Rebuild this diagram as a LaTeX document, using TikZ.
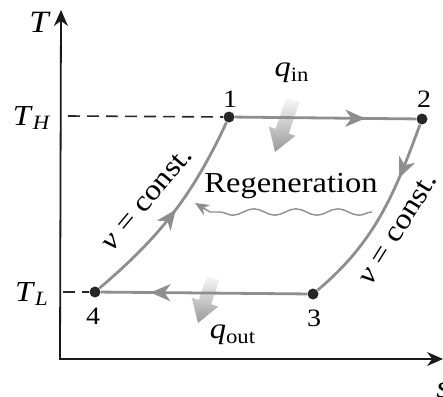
\documentclass[tikz,border=0pt]{standalone}
\usepackage{fontspec}
\setmainfont[FakeStretch=1.12]{Liberation Serif}
\usetikzlibrary{arrows.meta,decorations.markings,decorations.pathmorphing}
\definecolor{cyc}{HTML}{8E8E8E}
\begin{document}
\begin{tikzpicture}[x=0.5pt,y=-0.5pt,
  lbl/.style={font=\fontsize{14.5}{16}\selectfont, inner sep=0pt},
  num/.style={font=\fontsize{12.5}{14}\selectfont, inner sep=0pt},
  dot/.style={circle, fill=black!85, inner sep=0pt, minimum size=5.5pt},
  proc/.style={color=cyc, line width=1.4pt},
  midarrow/.style={postaction={decorate}, decoration={markings, mark=at position #1 with {\arrow{Stealth[length=10pt,width=8.5pt,inset=3pt]}}}},
  axisline/.style={line width=0.9pt, black!90, {Stealth[length=8pt,width=7pt]}-{Stealth[length=8pt,width=7pt]}},
  dashline/.style={line width=0.8pt, black!85, dash pattern=on 6pt off 3.5pt},
  heatarrow/.style={top color=gray!5, bottom color=gray!80, draw=none},
]
\useasboundingbox (0,0) rectangle (443,396);

% axes
\coordinate (Ttop) at (61,10);
\coordinate (O) at (60,359);
\coordinate (Send) at (443,359);
\draw[axisline] (Ttop) -- (O) -- (Send);
\node[lbl, font=\fontsize{15.5}{17}\selectfont\itshape] (Tlab) at (39,22) {T};
\node[lbl, font=\fontsize{15.5}{17}\selectfont\itshape] (slab) at (443,390) {s};

% state points
\node[dot] (p1) at (229,117) {};
\node[dot] (p2) at (422,119) {};
\node[dot] (p3) at (313,294) {};
\node[dot] (p4) at (95,292) {};
\node[num] (n1) at (230,99) {1};
\node[num] (n2) at (424,99) {2};
\node[num] (n3) at (314,318) {3};
\node[num] (n4) at (93,316) {4};

% temperature levels
\coordinate (TH) at (68,116);
\coordinate (TL) at (63,292);
\draw[dashline] (TH) -- (p1);
\draw[dashline] (TL) -- (p4);
\node[lbl] (THlab) at (32,118) {\textit{T}\textsubscript{\textit{H}}};
\node[lbl] (TLlab) at (32,294) {\textit{T}\textsubscript{\textit{L}}};

% heat arrows
\shade[heatarrow] (286.4,97.7) -- (299.6,102.3) -- (288.8,133.5) -- (295.4,135.8) -- (275,152) -- (269.0,126.6) -- (275.6,128.9) -- cycle;
\shade[heatarrow] (206.8,275.9) -- (219.2,280.1) -- (211.2,304.2) -- (218.3,306.5) -- (198,323) -- (191.7,297.7) -- (198.8,300.0) -- cycle;
\node[lbl] (qin) at (292,73) {\textit{q}\textsubscript{in}};
\node[lbl] (qout) at (233,335) {\textit{q}\textsubscript{out}};

% cycle
\draw[proc, midarrow=0.72] (p1) -- (p2);
\draw[proc, midarrow=0.29] (p2) .. controls (394.5,194) and (375,242) .. (p3);
\draw[proc, midarrow=0.76] (p3) -- (p4);
\draw[proc, midarrow=0.52] (p4) .. controls (162,235) and (193,194) .. (p1);

\node[lbl, rotate=50] (vl) at (147,199) {\textit{v} = const.};
\node[lbl, rotate=58] (vr) at (398,229) {\textit{v} = const.};

% regeneration
\node[lbl, anchor=base] (reg) at (291,192) {Regeneration};
\coordinate (wr) at (372,212);
\coordinate (wm) at (210,212);
\coordinate (wl) at (195,203);
\draw[cyc, line width=0.7pt, -{Stealth[length=7pt,width=6pt]}] (wr) decorate[decoration={snake, amplitude=1.6pt, segment length=21pt}] {-- (wm)} -- (wl);
\end{tikzpicture}
\end{document}
